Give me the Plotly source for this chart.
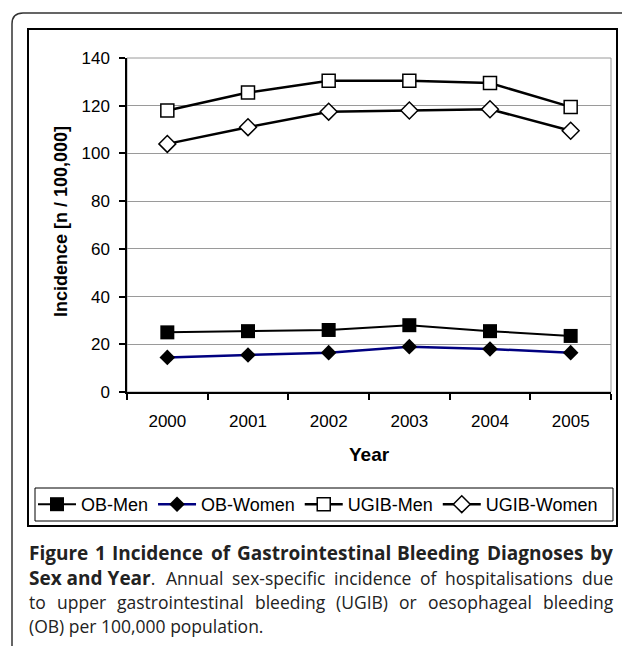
import plotly.graph_objects as go

years = ["2000", "2001", "2002", "2003", "2004", "2005"]
ob_men = [25, 25.5, 26, 28, 25.5, 23.5]
ob_women = [14.5, 15.5, 16.5, 19, 18, 16.5]
ugib_men = [118, 125.5, 130.5, 130.5, 129.5, 119.5]
ugib_women = [104, 111, 117.5, 118, 118.5, 109.5]
y_ticks = [0, 20, 40, 60, 80, 100, 120, 140]

W, H = 622, 646
PL, PR, PT, PB = 127, 611, 58, 392


def xp(px):
    return (px - PL) / (PR - PL)


def yp(py):
    return (PB - py) / (PB - PT)


fig = go.Figure()
fig.add_trace(go.Scatter(x=years, y=ob_men, name="OB-Men", mode="lines+markers",
                         line=dict(color="black", width=2),
                         marker=dict(symbol="square", size=14, color="black")))
fig.add_trace(go.Scatter(x=years, y=ob_women, name="OB-Women", mode="lines+markers",
                         line=dict(color="#000080", width=2.5),
                         marker=dict(symbol="diamond", size=12, color="black")))
fig.add_trace(go.Scatter(x=years, y=ugib_men, name="UGIB-Men", mode="lines+markers",
                         line=dict(color="black", width=2.5),
                         marker=dict(symbol="square", size=13, color="white",
                                     line=dict(color="black", width=1.5))))
fig.add_trace(go.Scatter(x=years, y=ugib_women, name="UGIB-Women", mode="lines+markers",
                         line=dict(color="black", width=2.5),
                         marker=dict(symbol="diamond", size=13, color="white",
                                     line=dict(color="black", width=1.5))))

shapes = [
    dict(type="rect", xref="paper", yref="paper", x0=0, x1=1, y0=0, y1=1,
         line=dict(color="#9a9a9a", width=1), layer="below"),
    dict(type="rect", xref="paper", yref="paper", x0=xp(28), x1=xp(617), y0=yp(29), y1=yp(526),
         line=dict(color="black", width=2)),
    dict(type="rect", xref="paper", yref="paper", x0=xp(35), x1=xp(613), y0=yp(488), y1=yp(521),
         line=dict(color="black", width=1)),
    dict(type="path", xref="paper", yref="paper",
         path=f"M {xp(12)},{yp(660)} L {xp(12)},{yp(24)} Q {xp(12)},{yp(13)} {xp(23)},{yp(13)} L {xp(640)},{yp(13)}",
         line=dict(color="#333333", width=1.5)),
]

annotations = [
    dict(text="<b>Incidence [n / 100,000]</b>", xref="paper", yref="paper",
         x=xp(61), y=yp(222), textangle=-90, showarrow=False,
         font=dict(family="Arial", size=18, color="black"), xanchor="center", yanchor="middle"),
    dict(text="<b>Year</b>", xref="paper", yref="paper",
         x=xp(369), y=yp(454), showarrow=False,
         font=dict(family="Arial", size=19, color="black"), xanchor="center", yanchor="middle"),
]

# approximate Open Sans advance widths (em) for justified caption layout
REG = {" ": .26, "a": .556, "b": .613, "c": .476, "d": .613, "e": .561, "f": .339, "g": .548,
       "h": .614, "i": .253, "l": .253, "n": .614, "o": .604, "p": .613, "r": .408, "s": .477,
       "t": .353, "u": .614, "x": .524, "y": .502, "-": .322, "(": .3, ")": .3, ".": .266,
       ",": .245, "A": .633, "B": .648, "G": .715, "I": .303, "O": .781, "U": .712}
BLD = {" ": .26, "a": .586, "b": .627, "c": .498, "d": .627, "e": .589, "f": .387, "g": .55,
       "h": .644, "i": .295, "l": .295, "n": .644, "o": .613, "r": .443, "s": .495, "t": .41,
       "u": .644, "x": .56, "y": .549, "B": .675, "D": .712, "F": .569, "G": .708, "I": .364,
       "S": .55, "Y": .6, "1": .572}


def wreg(s, size):
    return sum(REG.get(c, .572) for c in s) * size


def wbld(s, size):
    return sum(BLD.get(c, .58) for c in s) * size * 1.03


CL, CR = 28, 612
REG_SIZE, BLD_SIZE = 17.5, 19
reg_font = dict(family="Open Sans", size=REG_SIZE, color="#222222")


def justify(ypix, words):
    total = sum(w for _, w in words)
    gap = (CR - CL - total) / (len(words) - 1)
    x = CL
    for html, w in words:
        annotations.append(dict(text=html, xref="paper", yref="paper", x=xp(x), y=yp(ypix),
                                xanchor="left", yanchor="middle", showarrow=False,
                                font=reg_font, borderpad=0))
        x += w + gap


line1 = "Figure 1 Incidence of Gastrointestinal Bleeding Diagnoses by".split()
justify(553, [(f"<b style='font-size:{BLD_SIZE}px'>{w}</b>", wbld(w, BLD_SIZE)) for w in line1])

line2 = [(f"<b style='font-size:{BLD_SIZE}px'>Sex and Year</b>.", wbld("Sex and Year", BLD_SIZE) + wreg(".", REG_SIZE))]
line2 += [(w, wreg(w, REG_SIZE)) for w in "Annual sex-specific incidence of hospitalisations due".split()]
justify(578, line2)

line3 = "to upper gastrointestinal bleeding (UGIB) or oesophageal bleeding".split()
justify(602, [(w, wreg(w, REG_SIZE)) for w in line3])

annotations.append(dict(text="(OB) per 100,000 population.", xref="paper", yref="paper",
                        x=xp(CL), y=yp(626), xanchor="left", yanchor="middle", showarrow=False,
                        font=reg_font, borderpad=0))

fig.update_layout(
    width=W, height=H,
    margin=dict(l=PL, r=W - PR, t=PT, b=H - PB, autoexpand=False),
    paper_bgcolor="white", plot_bgcolor="white",
    showlegend=True,
    legend=dict(orientation="h", x=xp(33), y=yp(504.5), xanchor="left", yanchor="middle",
                borderwidth=0, itemwidth=38,
                font=dict(family="Arial", size=18, color="black"),
                bgcolor="rgba(0,0,0,0)"),
    xaxis=dict(type="category", range=[-0.5, 5.5], tickson="boundaries", ticks="outside",
               ticklen=6, tickwidth=1.5, tickcolor="black", showline=True, linecolor="black",
               linewidth=1.5, showgrid=False, zeroline=False, ticklabelstandoff=13,
               tickfont=dict(family="Arial", size=17, color="black"), fixedrange=True),
    yaxis=dict(range=[0, 140], tickvals=y_ticks, ticks="outside", ticklen=6, tickwidth=1.5,
               tickcolor="black", showline=True, linecolor="black", linewidth=1.5,
               showgrid=True, gridcolor="#9a9a9a", gridwidth=1, zeroline=False,
               ticklabelstandoff=6,
               tickfont=dict(family="Arial", size=17, color="black"), fixedrange=True),
    shapes=shapes,
    annotations=annotations,
)

fig.write_html("out.html", config={"displayModeBar": False},
               post_script="document.body.style.margin='0';document.body.style.overflow='hidden';")
